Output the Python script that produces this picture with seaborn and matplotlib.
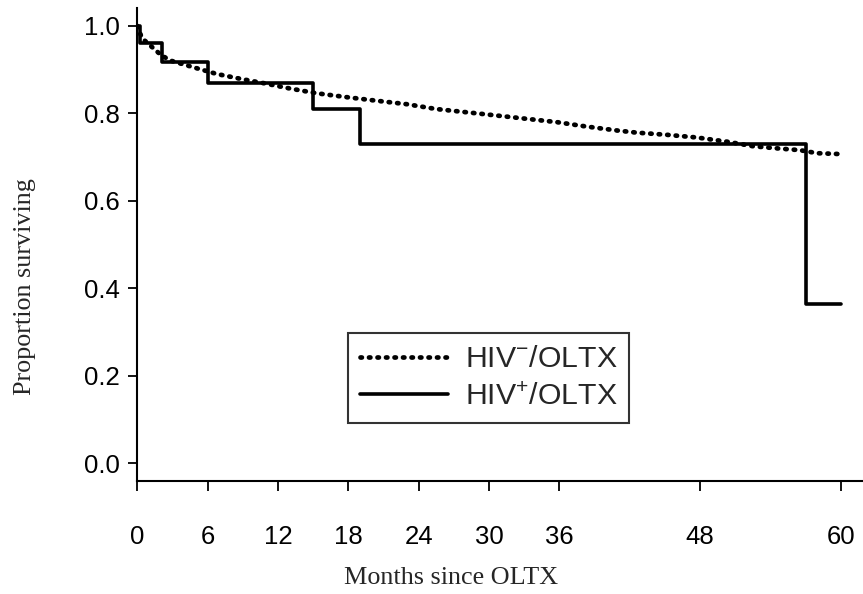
import numpy as np
import pandas as pd
import matplotlib
matplotlib.use("Agg")
import matplotlib.pyplot as plt
import seaborn as sns

# ---- data ----
# HIV-negative transplant recipients (dotted curve)
neg_months = [0, 0.4, 1.2, 2.0, 2.8, 5.1, 6.8, 9.0, 10.8, 13.0, 15.3, 17.9, 20.4, 23.0,
              25.5, 29.0, 32.4, 35.8, 38.3, 40.9, 42.6, 45.2, 47.7, 50.4, 52.5, 54.6,
              56.5, 58.0, 60.0]
neg_surv = [1.0, 0.972, 0.953, 0.934, 0.921, 0.903, 0.890, 0.878, 0.869, 0.857, 0.846,
            0.837, 0.829, 0.821, 0.810, 0.800, 0.790, 0.780, 0.770, 0.761, 0.756, 0.751,
            0.745, 0.735, 0.725, 0.720, 0.716, 0.709, 0.707]

# HIV-positive transplant recipients (solid step curve)
pos_months = [0, 0.2, 2.1, 6.0, 15.0, 19.0, 57.0, 60.0]
pos_surv = [1.0, 0.960, 0.917, 0.870, 0.810, 0.730, 0.365, 0.365]

x_ticks = [0, 6, 12, 18, 24, 30, 36, 48, 60]
y_ticks = [0.0, 0.2, 0.4, 0.6, 0.8, 1.0]

df_neg = pd.DataFrame({"months": neg_months, "surv": neg_surv})
df_pos = pd.DataFrame({"months": pos_months, "surv": pos_surv})

# ---- style ----
sns.set_style("ticks")
plt.rcParams["font.family"] = ["Liberation Sans", "DejaVu Sans"]
plt.rcParams["mathtext.fontset"] = "custom"
plt.rcParams["mathtext.rm"] = "Liberation Sans"
plt.rcParams["mathtext.it"] = "Liberation Sans"

W, H = 863, 594
fig = plt.figure(figsize=(W / 100, H / 100), dpi=100)
# axes box in pixels: left 137, right 863, bottom spine at 481, top at 8
ax = fig.add_axes([137.3 / W, (H - 480.7) / H, (W - 137.3) / W, (480.7 - 8) / H])

sns.lineplot(data=df_neg, x="months", y="surv", ax=ax, color="black", lw=3.4,
             linestyle=(0, (0.3, 1.5)), dash_capstyle="round", sort=False,
             label="HIV$^{-}$/OLTX")
sns.lineplot(data=df_pos, x="months", y="surv", ax=ax, color="black", lw=2.6,
             drawstyle="steps-post", sort=False, label="HIV$^{+}$/OLTX")

ax.set_xlim(0, 61.9)
ax.set_ylim(-0.0398, 1.041)
ax.set_xticks(x_ticks)
ax.set_yticks(y_ticks)
ax.set_yticklabels([f"{v:.1f}" for v in y_ticks])
ax.tick_params(axis="x", length=7, width=1.3, pad=25, labelsize=18.5, colors="black")
ax.tick_params(axis="y", length=6.5, width=1.3, pad=6, labelsize=18.5, colors="black")
for s in ["left", "bottom"]:
    ax.spines[s].set_linewidth(1.5)
    ax.spines[s].set_color("black")
sns.despine(ax=ax)

ax.set_xlabel("Months since OLTX", family=["Liberation Serif"], fontsize=18.8)
ax.xaxis.set_label_coords(0.433, -0.182)
ax.set_ylabel("Proportion surviving", family=["Liberation Serif"], fontsize=18.8)
ax.yaxis.set_label_coords(-0.139, 0.41)

leg = ax.legend(loc="upper left", bbox_to_anchor=(348 / W, (H - 333) / H),
                bbox_transform=fig.transFigure, borderaxespad=0, fontsize=21.8,
                frameon=True, fancybox=False, handlelength=2.9, handletextpad=0.55,
                borderpad=0.4, labelspacing=0.32)
leg.get_frame().set_edgecolor("black")
leg.get_frame().set_linewidth(1.5)

fig.savefig("out.png", dpi=100)
